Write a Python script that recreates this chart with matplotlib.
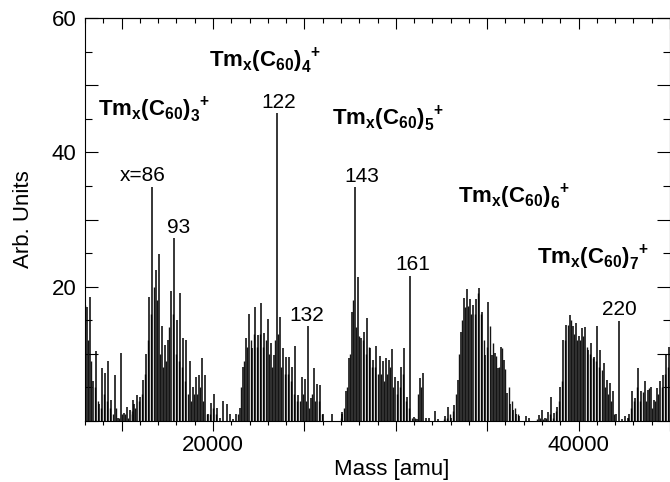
import matplotlib
matplotlib.use('Agg')
import matplotlib.pyplot as plt
from matplotlib.ticker import MultipleLocator, FuncFormatter

plt.rcParams['font.family'] = ['Liberation Sans', 'DejaVu Sans']
plt.rcParams['mathtext.fontset'] = 'custom'
plt.rcParams['mathtext.rm'] = 'Liberation Sans'
plt.rcParams['mathtext.bf'] = 'Liberation Sans:bold'
plt.rcParams['mathtext.it'] = 'Liberation Sans:italic'

TM = 168.934    # Tm atomic mass
C60 = 720.66    # C60 mass

# Tm_x(C60)_n+ peaks: first x of each cluster and heights for consecutive x.
# *_side are the weaker sticks sitting half a Tm step below each main peak.
n2_x0 = 69
n2_main = [17.0, 18.5, 6.0, 10.4, 2.6, 7.9, 7.2, 8.9, 3.1, 6.9, 0.5, 10.1, 1.2, 2.1, 1.6, 3.1]
n2_side = [17.3, 12.0, 9.0, 5.0, 3.0, 2.0, 4.0, 3.0, 2.0, 1.0, 2.0, 0.5, 1.0, 1.0, 0.5, 1.0]

n3_x0 = 80
n3_main = [2.5, 3.9, 3.5, 6.1, 10.0, 18.5, 34.9, 22.5, 24.8, 14.2, 11.3, 12.0, 19.3, 27.2, 15.0,
           19.0, 12.4, 12.1, 8.9, 5.1, 6.6, 6.8, 9.4, 6.8, 1.0, 2.7, 4.0, 2.0, 0.5, 3.0, 2.5,
           1.1, 0.3, 1.1]
n3_side = [1.5, 2.0, 3.0, 4.0, 7.0, 12.0, 16.0, 20.0, 18.0, 10.0, 8.0, 9.0, 14.0, 16.0, 10.0,
           9.0, 8.0, 6.0, 4.0, 3.0, 4.0, 4.0, 5.0, 3.0, 1.0, 1.0, 2.0, 1.0]

n4_x0 = 110
n4_main = [2.0, 8.0, 12.3, 15.9, 10.9, 17.0, 12.8, 17.5, 13.1, 15.2, 11.6, 9.8, 45.8, 15.5, 10.9,
           9.6, 9.5, 8.1, 11.2, 3.9, 6.6, 6.2, 14.1, 3.4, 7.9, 5.5, 5.4, 1.0, 0.0, 0.0, 1.1,
           0.0, 0.0, 1.1]
n4_side = [1.0, 5.0, 9.0, 11.0, 12.0, 13.0, 11.0, 13.0, 11.0, 12.0, 10.0, 8.0, 12.0, 13.0, 8.0,
           7.0, 7.0, 6.0, 4.0, 3.0, 3.0, 4.0, 3.0, 2.0, 4.0, 3.0, 3.0, 1.0]

n5_x0 = 139
n5_main = [1.3, 4.4, 9.4, 16.2, 34.8, 21.5, 12.4, 13.3, 15.4, 10.9, 9.1, 11.1, 9.7, 9.0, 9.4,
           9.1, 10.7, 6.6, 5.9, 8.1, 10.9, 3.5, 21.6, 0.6, 0.3, 6.4, 7.2, 0.4, 0.5, 0.0, 1.5, 0.3]
n5_side = [0.5, 2.0, 5.0, 10.0, 18.0, 14.0, 12.6, 12.0, 10.0, 11.0, 8.0, 8.0, 7.0, 7.0, 6.0,
           7.0, 8.0, 5.0, 4.0, 5.0, 7.0, 3.0, 2.0, 0.5, 0.5, 4.0, 5.0]

n6_x0 = 168
n6_main = [0.8, 2.1, 0.5, 2.4, 6.1, 13.2, 18.3, 19.7, 18.1, 17.3, 18.1, 19.8, 16.3, 9.9, 17.7,
           9.9, 10.1, 7.9, 11.0, 9.1, 4.1, 2.6, 1.6, 1.0, 0.7, 0.0, 0.7, 0.5]
n6_side = [0.3, 0.5, 1.0, 1.5, 4.0, 10.0, 15.0, 17.0, 17.1, 16.0, 16.0, 19.1, 16.0, 12.0, 11.0,
           14.1, 11.6, 9.7, 8.0, 10.9, 7.7, 5.0, 3.0, 2.0, 1.0]

n7_x0 = 194
n7_main = [0.9, 1.6, 0.5, 1.4, 3.5, 1.2, 2.1, 5.1, 12.0, 14.3, 15.8, 14.1, 14.6, 12.6, 13.8,
           14.0, 10.6, 11.6, 9.6, 14.2, 10.6, 8.6, 6.1, 5.6, 4.4, 1.1, 14.9, 0.3, 0.8, 0.5]
n7_side = [0.3, 0.5, 0.3, 0.5, 1.0, 0.5, 1.5, 3.0, 6.0, 12.0, 14.3, 15.0, 13.0, 12.0, 12.0,
           12.6, 11.0, 10.0, 9.4, 9.0, 8.0, 7.6, 5.0, 4.0, 3.0, 1.0]

n8_x0 = 219
n8_main = [1.0, 4.4, 3.4, 7.9, 4.4, 6.0, 4.6, 5.1, 3.2, 4.9, 6.0, 6.9, 9.9, 11.0, 8.0]
n8_side = [0.5, 2.0, 3.0, 5.0, 3.0, 4.3, 3.0, 4.9, 2.0, 3.0, 4.0, 5.0, 7.0, 8.0, 6.0]

# labelled peaks: (text, n, x)
peak_labels = [("x=86", 3, 86), ("93", 3, 93), ("122", 4, 122), ("132", 4, 132),
               ("143", 5, 143), ("161", 5, 161), ("220", 7, 220)]
# horizontal nudge of each peak label, points
peak_dx = [-7, 3, 1, -1, 5, 1.5, 0.5]

# cluster labels: n, mass and height of the text baseline
cluster_n = [3, 4, 5, 6, 7]
cluster_mass = [13710, 19780, 26500, 33380, 37750]
cluster_y = [45.4, 52.7, 44.0, 32.4, 23.4]

clusters = {
    2: (n2_x0, n2_main, n2_side),
    3: (n3_x0, n3_main, n3_side),
    4: (n4_x0, n4_main, n4_side),
    5: (n5_x0, n5_main, n5_side),
    6: (n6_x0, n6_main, n6_side),
    7: (n7_x0, n7_main, n7_side),
    8: (n8_x0, n8_main, n8_side),
}


def mass(n, x):
    return n * C60 + x * TM


fig = plt.figure(figsize=(6.7, 4.82), dpi=100)
ax = fig.add_axes([85 / 670, 1 - 421 / 482, 585 / 670, 403 / 482])

for n, (x0, main, side) in clusters.items():
    mm = [mass(n, x0 + i) for i in range(len(main))]
    ms = [mass(n, x0 + i - 0.5) for i in range(len(side))]
    ax.vlines(ms, 0, side, color='#151515', lw=1.0)
    ax.vlines(mm, 0, main, color='black', lw=1.1)

for (txt, n, x), dx in zip(peak_labels, peak_dx):
    x0, main, _ = clusters[n]
    h = main[x - x0]
    ax.annotate(txt, (mass(n, x), h), xytext=(dx, 4), textcoords='offset points',
                ha='center', va='baseline', fontsize=15)

for n, m, y in zip(cluster_n, cluster_mass, cluster_y):
    ax.text(m, y, r'$\mathbf{Tm_x(C_{60})_{%d}^{\;\;+}}$' % n, fontsize=16,
            ha='left', va='baseline')

ax.set_xlim(13000, 45000)
ax.set_ylim(0, 60)

ax.xaxis.set_major_locator(MultipleLocator(5000))
ax.xaxis.set_minor_locator(MultipleLocator(1000))
ax.yaxis.set_major_locator(MultipleLocator(10))
ax.yaxis.set_minor_locator(MultipleLocator(5))
ax.xaxis.set_major_formatter(FuncFormatter(lambda v, p: '%d' % v if v % 20000 == 0 else ''))
ax.yaxis.set_major_formatter(FuncFormatter(lambda v, p: '%d' % v if v % 20 == 0 and v > 0 else ''))

ax.tick_params(axis='x', which='major', direction='out', length=7, width=0.8,
               labelsize=16, pad=3)
ax.tick_params(axis='x', which='minor', direction='out', length=3, width=0.8)
ax.tick_params(axis='y', which='major', direction='in', length=9.5, width=0.8,
               labelsize=16, pad=6, right=True)
ax.tick_params(axis='y', which='minor', direction='in', length=5, width=0.8, right=True)

# inward ticks along the top edge
sec = ax.secondary_xaxis('top')
sec.xaxis.set_major_locator(MultipleLocator(5000))
sec.xaxis.set_minor_locator(MultipleLocator(1000))
sec.tick_params(which='major', direction='in', length=8, width=0.8, labeltop=False)
sec.tick_params(which='minor', direction='in', length=3.5, width=0.8)
sec.spines['top'].set_linewidth(0.8)

for s in ax.spines.values():
    s.set_linewidth(0.8)

ax.set_ylabel('Arb. Units', fontsize=16, labelpad=13)
fig.text(392 / 670, 1 - 470 / 482, 'Mass [amu]', fontsize=16, ha='center', va='center')

fig.savefig('out.png', dpi=100)
